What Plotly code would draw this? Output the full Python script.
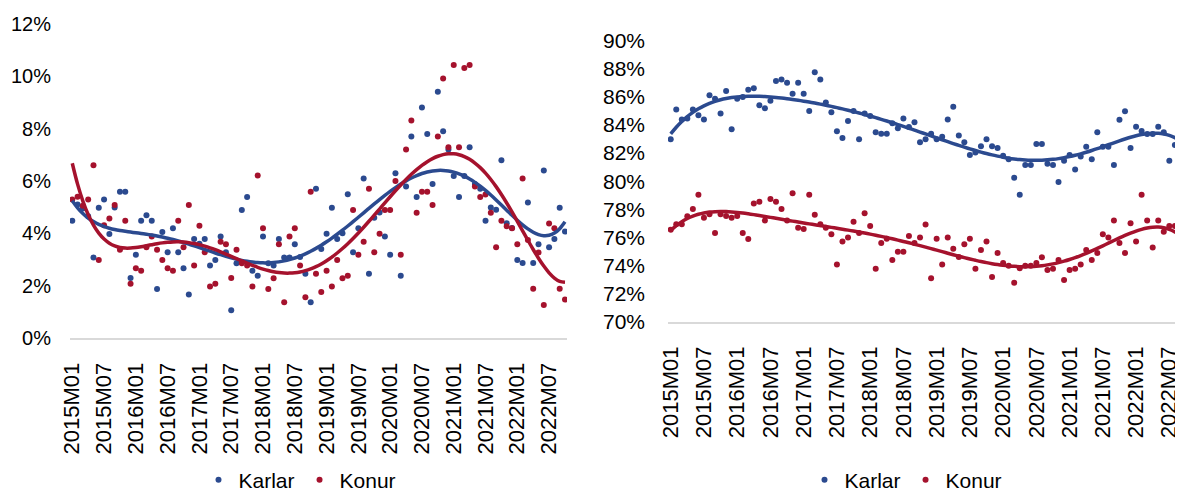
import numpy as np
import plotly.graph_objects as go

# --- data ---
months = [f"{y}M{m:02d}" for y in range(2015, 2023) for m in range(1, 13)]
tick_labels = months[::6][:16]

# left panel (%), 2015M01 - 2022M10
karlar_l = [4.48, 5.10, 4.95, 4.65, 3.08, 4.98, 5.29, 3.97, 4.99, 5.59,
            5.59, 2.29, 3.18, 4.48, 4.69, 4.48, 1.87, 4.05, 3.28, 4.19,
            3.28, 2.67, 1.66, 3.78, 3.60, 3.78, 2.77, 2.98, 3.88, 3.28,
            1.06, 2.86, 4.89, 5.39, 2.57, 2.38, 3.88, 2.86, 2.77, 3.78,
            3.08, 3.08, 3.58, 3.10, 2.46, 1.37, 5.70, 3.40, 3.98, 4.98,
            3.78, 4.00, 5.49, 3.28, 4.19, 6.10, 2.46, 4.60, 4.80, 3.88,
            3.18, 6.30, 2.38, 5.79, 7.70, 5.39, 8.81, 7.80, 5.89, 9.41,
            7.90, 7.20, 6.19, 5.39, 6.19, 7.29, 5.89, 5.70, 4.48, 4.99,
            4.90, 6.79, 4.39, 4.20, 2.98, 2.87, 5.18, 2.87, 3.58, 6.40,
            3.47, 3.78, 4.98, 4.07]
konur_l = [5.29, 5.40, 5.05, 5.29, 6.60, 2.98, 4.31, 4.57, 5.08, 3.37,
           4.48, 2.07, 2.67, 2.57, 3.47, 3.88, 3.37, 2.98, 2.67, 2.57,
           4.48, 3.47, 5.08, 2.77, 4.29, 3.28, 1.97, 2.07, 3.68, 3.58,
           2.29, 3.37, 2.86, 2.77, 1.97, 6.21, 4.19, 1.87, 2.28, 3.58,
           1.37, 3.88, 4.19, 2.77, 1.56, 5.59, 2.46, 1.76, 2.57, 1.97,
           2.98, 2.28, 2.38, 4.89, 3.18, 3.68, 5.70, 3.28, 3.98, 4.89,
           4.89, 6.00, 3.18, 7.20, 8.31, 4.79, 5.59, 5.59, 5.08, 7.70,
           9.92, 7.29, 10.43, 7.29, 10.32, 10.43, 5.79, 5.39, 5.48, 4.79,
           3.47, 4.48, 4.27, 4.19, 3.58, 6.10, 3.75, 1.88, 3.27, 1.26,
           4.38, 4.19, 1.88, 1.47]

# right panel (%)
karlar_r = [82.98, 85.11, 84.40, 84.47, 85.11, 84.69, 84.40, 86.11, 85.87, 84.81,
            86.42, 83.69, 85.87, 85.99, 86.51, 86.61, 85.40, 85.19, 85.73, 87.13,
            87.23, 87.01, 86.23, 87.01, 86.23, 84.99, 87.75, 87.23, 85.61, 84.90,
            83.56, 83.07, 84.28, 85.00, 82.98, 84.81, 84.64, 83.48, 83.38, 83.38,
            84.12, 83.76, 84.47, 83.86, 84.19, 82.77, 82.98, 83.38, 82.98, 83.17,
            84.40, 85.30, 83.26, 82.77, 81.86, 82.05, 82.48, 82.98, 82.48, 82.36,
            81.82, 81.56, 80.25, 79.04, 81.15, 81.15, 82.65, 82.65, 81.25, 81.15,
            79.94, 81.46, 81.86, 80.84, 81.75, 82.46, 81.56, 83.48, 82.46, 82.46,
            81.15, 84.38, 84.97, 82.36, 83.88, 83.57, 83.36, 83.36, 83.88, 83.48,
            81.46, 82.58, 83.76]
konur_r = [76.55, 76.93, 76.93, 77.50, 78.02, 79.04, 77.40, 77.64, 76.31, 77.64,
           77.52, 77.40, 77.52, 76.31, 75.89, 78.42, 78.54, 77.21, 78.73, 78.54,
           78.02, 77.20, 79.14, 76.69, 76.60, 79.04, 77.62, 76.93, 76.69, 76.22,
           74.08, 75.70, 76.00, 77.12, 76.31, 77.71, 76.81, 73.77, 75.60, 75.91,
           74.39, 74.98, 74.98, 76.10, 75.60, 76.00, 76.91, 73.09, 75.91, 74.08,
           76.00, 75.20, 74.60, 75.51, 75.91, 73.77, 75.10, 75.70, 73.18, 74.89,
           74.18, 73.99, 72.78, 73.80, 73.99, 73.99, 74.18, 74.58, 73.68, 73.77,
           74.39, 72.97, 73.68, 73.77, 74.08, 75.10, 74.39, 74.89, 76.22, 76.00,
           77.21, 75.60, 74.89, 77.00, 75.70, 79.04, 77.21, 75.29, 77.21, 76.41,
           76.81, 76.81, 75.20]

BLUE = "#2B4A8F"
RED = "#A5122D"
FONT = "Liberation Sans"


def trend(vals, deg=6):
    # polynomial trend line, like the Excel one
    x = np.arange(len(vals))
    p = np.polynomial.Polynomial.fit(x, vals, deg)
    return p(x)


fig = go.Figure()

panels = [
    (karlar_l, konur_l, "x", "y", "legend"),
    (karlar_r, konur_r, "x2", "y2", "legend2"),
]
for karlar, konur, xa, ya, lg in panels:
    for name, vals, col in [("Karlar", karlar, BLUE), ("Konur", konur, RED)]:
        fig.add_trace(go.Scatter(
            x=months[:len(vals)], y=vals, mode="markers", name=name,
            marker=dict(color=col, size=6), xaxis=xa, yaxis=ya, legend=lg))
    for vals, col in [(karlar, BLUE), (konur, RED)]:
        fig.add_trace(go.Scatter(
            x=months[:len(vals)], y=trend(vals), mode="lines",
            line=dict(color=col, width=3.5, shape="spline"),
            xaxis=xa, yaxis=ya, showlegend=False, hoverinfo="skip"))

W, H = 1183, 493
OFF = 8  # page body margin


def px(x):
    return (x - OFF) / W


def py(y):
    return 1 - (y - OFF) / H


xcommon = dict(type="category", tickmode="array", tickvals=tick_labels,
               ticktext=tick_labels, tickangle=-90, showgrid=False,
               showline=True, linecolor="#D9D9D9", linewidth=2,
               zeroline=False, ticks="", tickfont=dict(size=22),
               ticklabelstandoff=14, automargin=False)
ycommon = dict(showgrid=False, zeroline=False, showline=False, ticks="",
               ticksuffix="%", dtick=2, automargin=False)

fig.update_layout(
    width=W, height=H,
    margin=dict(l=0, r=0, t=0, b=0, autoexpand=False),
    paper_bgcolor="white", plot_bgcolor="white",
    font=dict(family=FONT, color="#000000"),
    xaxis=dict(domain=[px(70), px(567)], range=[-0.43, 93.38], anchor="y", **xcommon),
    yaxis=dict(domain=[py(338), py(24)], range=[0, 12], anchor="x",
               ticklabelstandoff=18, tickfont=dict(size=20), **ycommon),
    xaxis2=dict(domain=[px(668), px(1183)], range=[-0.49, 92.47], anchor="y2", **xcommon),
    yaxis2=dict(domain=[py(321.7), py(40.7)], range=[70, 90], anchor="x2",
                ticklabelstandoff=22, tickfont=dict(size=21), **ycommon),
    legend=dict(orientation="h", x=px(300), y=py(480), xanchor="center",
                yanchor="middle", font=dict(size=21), bgcolor="rgba(0,0,0,0)"),
    legend2=dict(orientation="h", x=px(906), y=py(480), xanchor="center",
                 yanchor="middle", font=dict(size=21), bgcolor="rgba(0,0,0,0)"),
)

fig.write_html("out.html")
